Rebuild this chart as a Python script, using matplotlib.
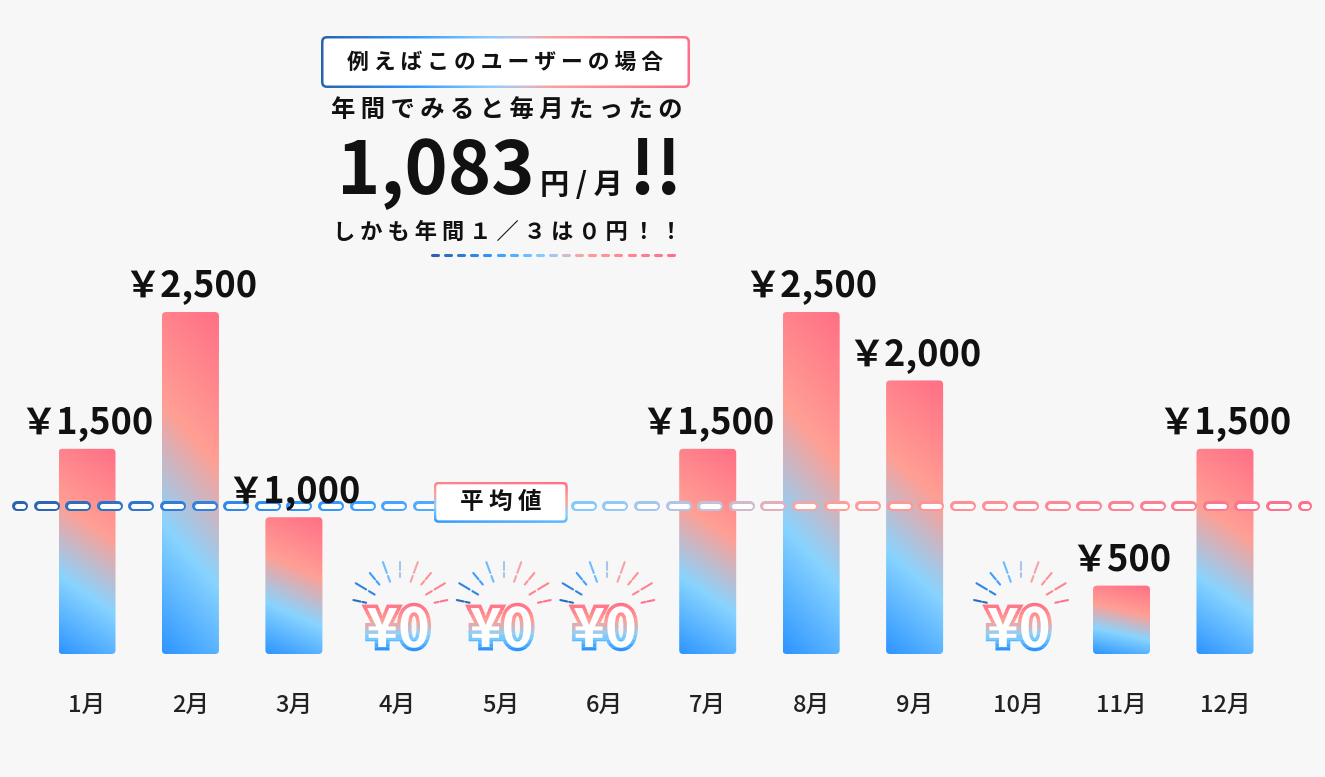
import numpy as np
import matplotlib.pyplot as plt
from matplotlib.colors import LinearSegmentedColormap
from matplotlib.patches import FancyBboxPatch, Rectangle, PathPatch
from matplotlib.textpath import TextPath
from matplotlib.font_manager import FontProperties
from matplotlib.transforms import Affine2D

plt.rcParams['font.family'] = ['Noto Sans CJK JP', 'DejaVu Sans']

months = ['1月', '2月', '3月', '4月', '5月', '6月', '7月', '8月', '9月', '10月', '11月', '12月']
fees = [1500, 2500, 1000, 0, 0, 0, 1500, 2500, 2000, 0, 500, 1500]
avg_label = '平均値'
tag = '例えばこのユーザーの場合'
lead = '年間でみると毎月たったの'
sub = 'しかも年間１／３は０円！！'

W, H = 1325, 777
bar_cmap = LinearSegmentedColormap.from_list(
    'bar', [(0, '#2e95ff'), (0.32, '#88d4ff'), (0.62, '#ff9f94'), (1, '#ff6f86')])
line_cmap = LinearSegmentedColormap.from_list(
    'line', [(0, '#2a62b0'), (0.25, '#3399ff'), (0.45, '#88ccff'),
             (0.55, '#c8c0d6'), (0.63, '#ff9e9a'), (1, '#ff6e8a')])

fig = plt.figure(figsize=(W / 100, H / 100), dpi=100)
fig.patch.set_facecolor('#f7f7f7')

# data axes: bars
ax = fig.add_axes([0, 0, 1, 1])
ax.axis('off')
ax.set_xlim(-0.841, 11.967)
ax.set_ylim(-899, 4781)
ax.set_autoscale_on(False)

# pixel overlay for labels and decorations
ov = fig.add_axes([0, 0, 1, 1])
ov.axis('off')
ov.set_xlim(0, W)
ov.set_ylim(H, 0)
ov.set_autoscale_on(False)


def to_px(x, y):
    X, Y = ax.transData.transform((x, y))
    return X, H - Y


sx = to_px(1, 0)[0] - to_px(0, 0)[0]
sy = to_px(0, 0)[1] - to_px(0, 1)[1]

U, V = np.meshgrid(np.linspace(0, 1, 128), np.linspace(0, 1, 128))
diag = (0.19 * U + V) / 1.19


def grad_box(x0, y0, w, h, r, grad, cmap, border, z):
    outer = FancyBboxPatch((x0, y0), w, h, boxstyle=f'round,pad=0,rounding_size={r}',
                           fc='none', ec='none', zorder=z)
    ov.add_patch(outer)
    ov.imshow(grad, extent=(x0, x0 + w, y0 + h, y0), origin='lower', cmap=cmap,
              aspect='auto', interpolation='bilinear', clip_path=outer, zorder=z)
    ov.add_patch(FancyBboxPatch((x0 + border, y0 + border), w - 2 * border, h - 2 * border,
                                boxstyle=f'round,pad=0,rounding_size={r - border}',
                                fc='white', ec='none', zorder=z + 0.1))


# bars
x = np.arange(len(months))
bars = ax.bar(x, fees, width=0.551, color='none')
for b, v in zip(bars, fees):
    if v == 0:
        continue
    x0, w, h = b.get_x(), b.get_width(), b.get_height()
    shape = FancyBboxPatch((x0, 0), w, h, boxstyle=f'round,pad=0,rounding_size={4 / sx}',
                           mutation_aspect=sx / sy, fc='none', ec='none')
    ax.add_patch(shape)
    ax.imshow(diag, extent=(x0, x0 + w, 0, h), origin='lower', cmap=bar_cmap,
              aspect='auto', interpolation='bilinear', clip_path=shape, zorder=2)
    tx, ty = to_px(x0 + w / 2, h)
    ov.text(tx, ty - 26, f'￥{v:,}', ha='center', va='center', fontsize=26,
            fontweight='bold', color='#111111', zorder=9)

# month labels
for i, m in enumerate(months):
    cx, by = to_px(i, 0)
    ov.text(cx, by + 51, m, ha='center', va='center', fontsize=17,
            fontweight='medium', color='#222222')

# zero months
zero_path = TextPath((0, 0), '¥0', size=54,
                     prop=FontProperties(family='Noto Sans CJK JP', weight='bold'))
zb = zero_path.get_extents()
ray_ang = np.radians([168, 149, 129.5, 110, 90, 70, 50.5, 31, 12])
ray_in = [35, 30, 33, 30, 33, 30, 33, 30, 35]
ray_out = [48, 52, 48, 51, 48, 51, 48, 52, 48]
for i, v in enumerate(fees):
    if v != 0:
        continue
    cx, by = to_px(i, 0)
    ty = by - 27
    tr = (Affine2D().translate(-(zb.x0 + zb.x1) / 2, -(zb.y0 + zb.y1) / 2)
          .scale(1, -1).translate(cx, ty) + ov.transData)
    n = 12
    for k in range(n):
        ya = by - 2 - (k + 1) * 4.3
        clip = Rectangle((cx - 60, ya), 120, 4.8, transform=ov.transData)
        p = PathPatch(zero_path, fc='none', ec=bar_cmap(k / (n - 1)), lw=5.0,
                      transform=tr, zorder=5)
        ov.add_patch(p)
        p.set_clip_path(clip)
    ov.add_patch(PathPatch(zero_path, fc='white', ec='none', transform=tr, zorder=5.5))
    rx, ry = cx + 3, by - 44
    for j, a in enumerate(ray_ang):
        c = line_cmap(j / 8 * 0.9 + 0.05)
        L = ray_out[j] - ray_in[j]
        for r0, r1 in ((ray_in[j], ray_in[j] + 0.3 * L), (ray_in[j] + 0.45 * L, ray_out[j])):
            ov.plot([rx + r0 * np.cos(a), rx + r1 * np.cos(a)],
                    [ry - r0 * np.sin(a), ry - r1 * np.sin(a)],
                    color=c, lw=1.5, solid_capstyle='round', zorder=4)

# average line
avg = np.mean(fees)
_, ly = to_px(0, avg)
for k in range(42):
    a, b2 = max(2 + 31.6 * k, 12), min(28 + 31.6 * k, 1312)
    if b2 - a < 6:
        continue
    c = line_cmap((0.5 * (a + b2) - 12) / 1300)
    ov.plot([a + 5, b2 - 5], [ly, ly], color=c, lw=7.2, solid_capstyle='round', zorder=6)
    ov.plot([a + 5, b2 - 5], [ly, ly], color='white', lw=3.6, solid_capstyle='round', zorder=6.1)

bx, _ = to_px(4, avg)
grad_box(bx - 67, ly - 24, 134, 41, 5, diag, bar_cmap, 2.5, 7)
ov.text(bx, ly - 3.5, ' '.join(avg_label), ha='center', va='center', fontsize=17,
        fontweight='bold', color='#111111', zorder=8)

# headline block
grad_box(321, 36, 369, 52, 6, U, line_cmap, 2.5, 7)
ov.text(505, 62, ' '.join(tag), ha='center', va='center', fontsize=15.7,
        fontweight='bold', color='#111111', zorder=8)
ov.text(507, 110, ' '.join(lead), ha='center', va='center', fontsize=17.5,
        fontweight='bold', color='#111111')
ov.text(535, 194, f'{avg:,.0f}', ha='right', va='baseline', fontsize=53,
        fontweight='bold', color='#111111')
ov.text(540, 194, '円 / 月', ha='left', va='baseline', fontsize=21,
        fontweight='bold', color='#111111')
ov.text(628, 194, '!!', ha='left', va='baseline', fontsize=53,
        fontweight='bold', color='#111111')
ov.text(508, 232, ' '.join(sub), ha='center', va='center', fontsize=16,
        fontweight='bold', color='#111111')
for k in range(19):
    a = 432 + 13.1 * k
    ov.plot([a, a + 6], [255, 255], color=line_cmap(k / 18), lw=2.2,
            solid_capstyle='round')

fig.savefig('out.png', dpi=100, facecolor=fig.get_facecolor())
